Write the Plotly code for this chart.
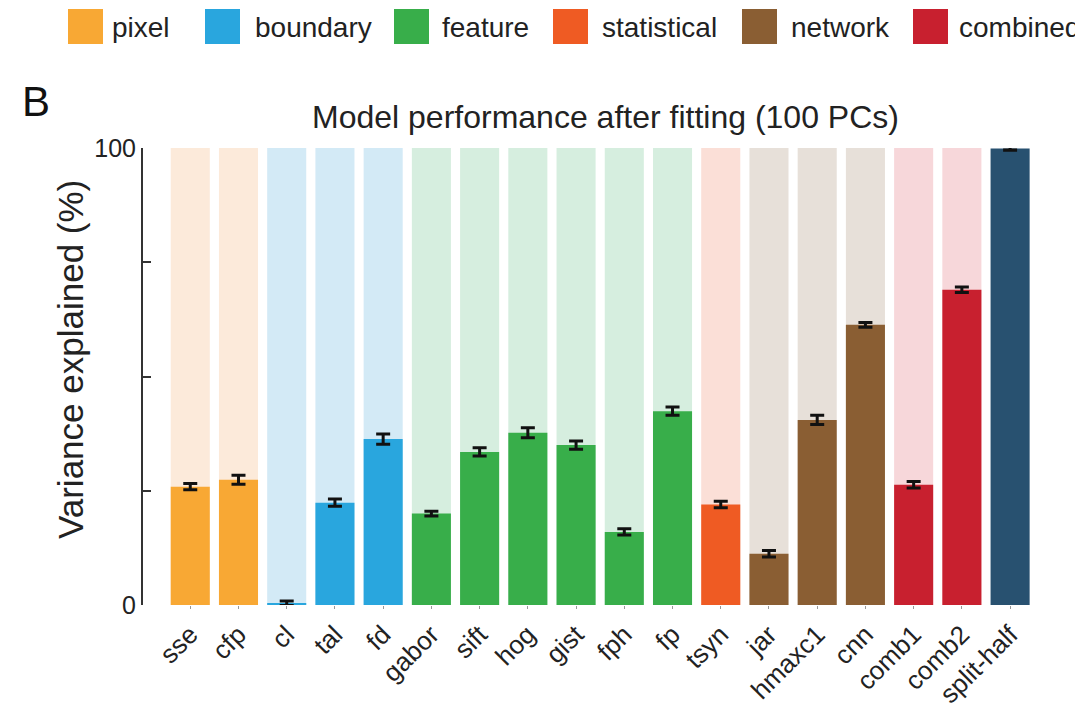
import plotly.graph_objects as go

categories = ["sse", "cfp", "cl", "tal", "fd", "gabor", "sift", "hog", "gist",
              "fph", "fp", "tsyn", "jar", "hmaxc1", "cnn", "comb1", "comb2", "split-half"]
groups = ["pixel", "pixel", "boundary", "boundary", "boundary", "feature", "feature",
          "feature", "feature", "feature", "feature", "statistical", "network", "network",
          "network", "combined", "combined", "reference"]
values = [25.9, 27.4, 0.4, 22.4, 36.3, 20.0, 33.5, 37.7, 35.0, 16.0, 42.4,
          22.0, 11.2, 40.5, 61.3, 26.3, 69.0, 99.9]
errors = [0.7, 1.0, 0.5, 0.8, 1.1, 0.5, 0.9, 1.1, 0.9, 0.7, 0.9,
          0.7, 0.7, 1.0, 0.5, 0.7, 0.6, 0.4]
ceiling = [100] * len(categories)

legend_groups = ["pixel", "boundary", "feature", "statistical", "network", "combined"]

main_colors = {"pixel": "#F8A834", "boundary": "#29A6DE", "feature": "#38AE4A",
               "statistical": "#EF5B23", "network": "#8A5E33", "combined": "#C8202F",
               "reference": "#285170"}
bg_colors = {"pixel": "#FCEADA", "boundary": "#D3EAF6", "feature": "#D6EEDF",
             "statistical": "#FBDFD7", "network": "#E7E0D9", "combined": "#F7D7DA",
             "reference": "rgba(0,0,0,0)"}

xpos = list(range(len(categories)))

FONT = "Liberation Sans, Arial, Helvetica, sans-serif"
OFF = 8  # page body margin offset

fig = go.Figure()
fig.add_trace(go.Bar(
    x=xpos, y=ceiling, width=0.81,
    marker=dict(color=[bg_colors[g] for g in groups], line=dict(width=0)),
    hoverinfo="skip", showlegend=False))
fig.add_trace(go.Bar(
    x=xpos, y=values, width=0.81,
    marker=dict(color=[main_colors[g] for g in groups], line=dict(width=0)),
    error_y=dict(type="data", array=errors, color="#111111", thickness=3, width=7),
    showlegend=False))

W, H = 1083 - OFF, 709 - OFF
L, R, T, B = 143 - OFF, 43, 148 - OFF, 112 - OFF
pw, ph = W - L - R, H - T - B


def px(x):
    return (x - OFF - L) / pw


def py(y):
    return (H - B - (y - OFF)) / ph


# legend (manual, at top)
leg_sq = [68, 205, 394, 553, 742, 913]
leg_tx = [110, 253, 440, 600, 789, 957]
shapes = []
annotations = []
for g, sx, tx in zip(legend_groups, leg_sq, leg_tx):
    shapes.append(dict(type="rect", xref="paper", yref="paper",
                       x0=px(sx), x1=px(sx + 35), y0=py(44), y1=py(9),
                       fillcolor=main_colors[g], line=dict(width=0)))
    annotations.append(dict(text=g, xref="paper", yref="paper", x=px(tx), y=py(27),
                            xanchor="left", yanchor="middle", showarrow=False,
                            font=dict(size=28, color="#222222", family=FONT)))

annotations.append(dict(text="B", xref="paper", yref="paper", x=px(20), y=py(101),
                        xanchor="left", yanchor="middle", showarrow=False,
                        font=dict(size=42, color="#111111", family=FONT)))
annotations.append(dict(text="Model performance after fitting (100 PCs)", xref="paper",
                        yref="paper", x=px(605), y=py(117), xanchor="center",
                        yanchor="middle", showarrow=False,
                        font=dict(size=32, color="#222222", family=FONT)))
annotations.append(dict(text="Variance explained (%)", xref="paper", yref="paper",
                        x=px(70), y=py(360), xanchor="center", yanchor="middle",
                        textangle=-90, showarrow=False,
                        font=dict(size=35, color="#222222", family=FONT)))

fig.update_layout(
    width=W, height=H,
    margin=dict(l=L, r=R, t=T, b=B, autoexpand=False),
    barmode="overlay",
    plot_bgcolor="white", paper_bgcolor="white",
    shapes=shapes, annotations=annotations,
    font=dict(family=FONT, color="#222222"),
    xaxis=dict(range=[-0.98, 17.62], tickvals=xpos, ticktext=categories,
               tickangle=-45, showgrid=False, zeroline=False, showline=False,
               ticks="outside", ticklen=3, tickcolor="#999999",
               tickfont=dict(size=26, color="#222222", family=FONT)),
    yaxis=dict(range=[0, 100], tickvals=[0, 25, 50, 75, 100],
               ticktext=["0", "", "", "", "100"], showgrid=False, zeroline=False,
               showline=True, linecolor="#333333", linewidth=2,
               ticks="inside", ticklen=8, tickwidth=2, tickcolor="#333333",
               tickfont=dict(size=25, color="#222222", family=FONT)),
)
fig.update_traces(cliponaxis=False)

fig.write_html("out.html")
